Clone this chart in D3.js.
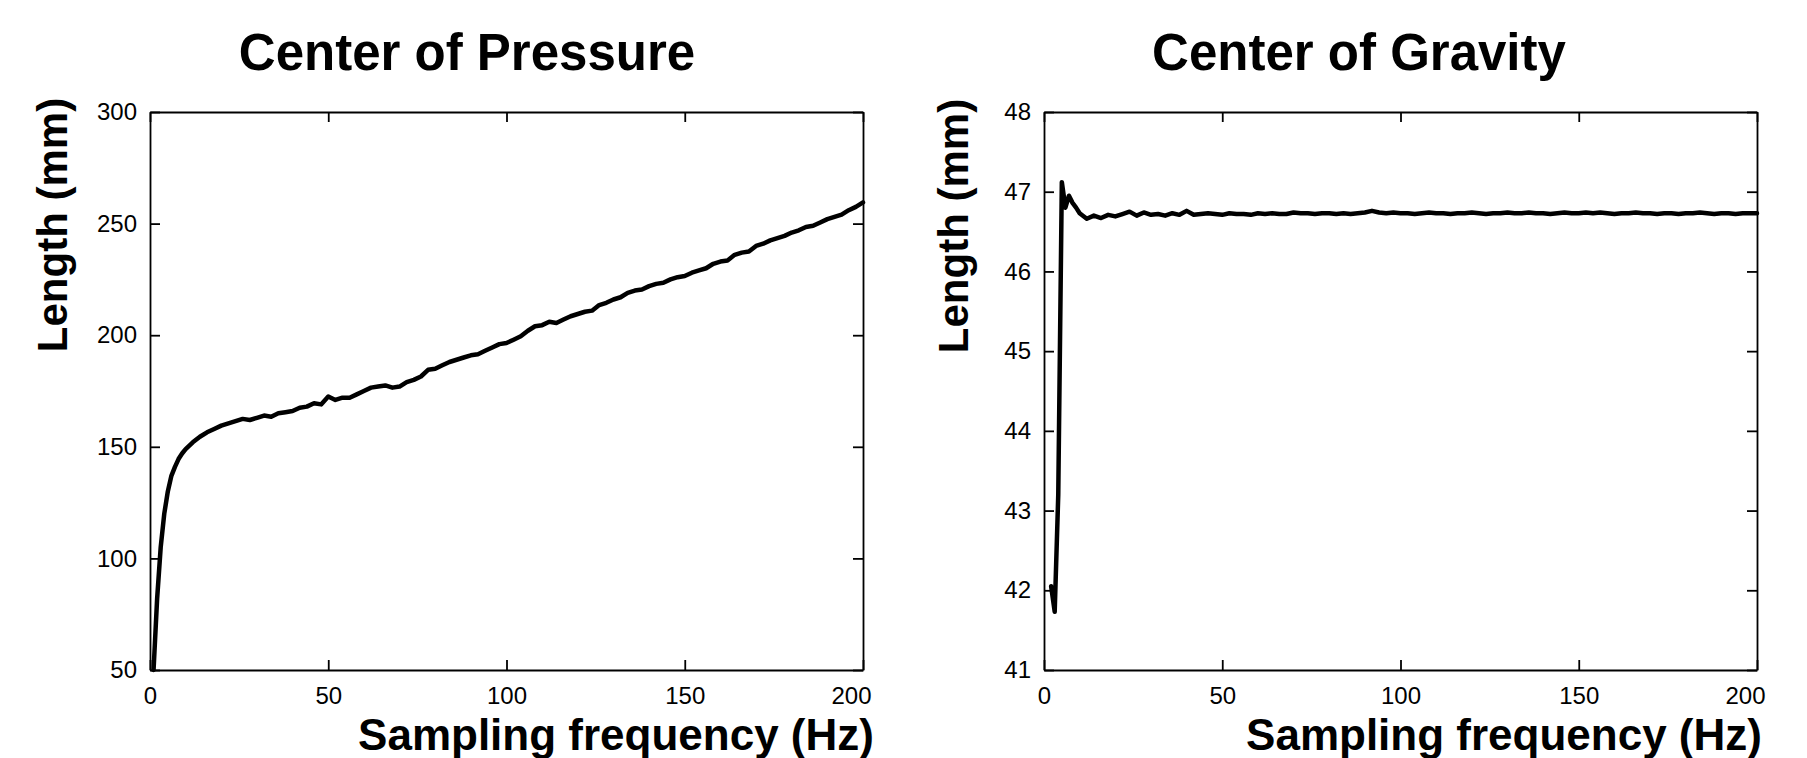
<!DOCTYPE html>
<html>
<head>
<meta charset="utf-8">
<script src="https://d3js.org/d3.v7.min.js"></script>
<style>
    body { margin: 0; background: #fff; }
    svg text { font-family: "Liberation Sans", Arial, Helvetica, sans-serif; fill: #000; }
    .axis text { font-size: 24px; }
    .axis path, .axis line { stroke: #000; stroke-width: 1.8px; }
    .title { font-size: 51px; font-weight: bold; }
    .x-label { font-size: 44px; font-weight: bold; }
    .y-label { font-size: 42px; font-weight: bold; }
</style>
</head>
<body>
<div id="chart"></div>
<script>
// center of pressure
const copFreq = [1, 2, 3, 4, 5, 6, 7, 8, 9, 10,
    12, 14, 16, 18, 20, 22, 24, 26, 28, 30,
    32, 34, 36, 38, 40, 42, 44, 46, 48, 50,
    52, 54, 56, 58, 60, 62, 64, 66, 68, 70,
    72, 74, 76, 78, 80, 82, 84, 86, 88, 90,
    92, 94, 96, 98, 100, 102, 104, 106, 108, 110,
    112, 114, 116, 118, 120, 122, 124, 126, 128, 130,
    132, 134, 136, 138, 140, 142, 144, 146, 148, 150,
    152, 154, 156, 158, 160, 162, 164, 166, 168, 170,
    172, 174, 176, 178, 180, 182, 184, 186, 188, 190,
    192, 194, 196, 198, 200];
const copLength = [50, 82, 105, 120, 130, 137, 141, 144.5, 147, 149,
    152, 154.5, 156.5, 158, 159.5, 160.5, 161.5, 162.5, 162, 163,
    164, 163.5, 165, 165.5, 166, 167.5, 168, 169.5, 169, 172.5,
    171, 172, 172, 173.5, 175, 176.5, 177, 177.5, 176.5, 177,
    179, 180, 181.5, 184.5, 185, 186.5, 188, 189, 190, 191,
    191.5, 193, 194.5, 196, 196.5, 198, 199.5, 202, 204, 204.5,
    206, 205.5, 207, 208.5, 209.5, 210.5, 211, 213.5, 214.5, 216,
    217, 219, 220, 220.5, 222, 223, 223.5, 225, 226, 226.5,
    228, 229, 230, 232, 233, 233.5, 236, 237, 237.5, 240,
    241, 242.5, 243.5, 244.5, 246, 247, 248.5, 249, 250.5, 252,
    253, 254, 256, 257.5, 259.5];

// center of gravity
const cogFreq = [2, 3, 4, 5, 6, 7, 8, 9, 10,
    12, 14, 16, 18, 20, 22, 24, 26, 28, 30,
    32, 34, 36, 38, 40, 42, 44, 46, 48, 50,
    52, 54, 56, 58, 60, 62, 64, 66, 68, 70,
    72, 74, 76, 78, 80, 82, 84, 86, 88, 90,
    92, 94, 96, 98, 100, 102, 104, 106, 108, 110,
    112, 114, 116, 118, 120, 122, 124, 126, 128, 130,
    132, 134, 136, 138, 140, 142, 144, 146, 148, 150,
    152, 154, 156, 158, 160, 162, 164, 166, 168, 170,
    172, 174, 176, 178, 180, 182, 184, 186, 188, 190,
    192, 194, 196, 198, 200];
const cogLength = [42.05, 41.73, 43.2, 47.12, 46.8, 46.95, 46.86, 46.8, 46.73,
    46.66, 46.7, 46.67, 46.71, 46.69, 46.72, 46.75, 46.7, 46.74, 46.71,
    46.72, 46.7, 46.73, 46.71, 46.76, 46.71, 46.72, 46.73, 46.72, 46.71,
    46.73, 46.72, 46.72, 46.71, 46.73, 46.72, 46.73, 46.72, 46.72, 46.74,
    46.73, 46.73, 46.72, 46.73, 46.73, 46.72, 46.73, 46.72, 46.73, 46.74,
    46.76, 46.74, 46.73, 46.74, 46.73, 46.73, 46.72, 46.73, 46.74, 46.73,
    46.73, 46.72, 46.73, 46.73, 46.74, 46.73, 46.72, 46.73, 46.73, 46.74,
    46.73, 46.73, 46.74, 46.73, 46.73, 46.72, 46.73, 46.74, 46.73, 46.73,
    46.74, 46.73, 46.74, 46.73, 46.72, 46.73, 46.73, 46.74, 46.73, 46.73,
    46.72, 46.73, 46.73, 46.72, 46.73, 46.73, 46.74, 46.73, 46.72, 46.73,
    46.73, 46.72, 46.73, 46.73, 46.73];

const xTicks = [0, 50, 100, 150, 200];
const copTicks = [50, 100, 150, 200, 250, 300];
const cogTicks = [41, 42, 43, 44, 45, 46, 47, 48];

class LinePlotVis {
    constructor(svg, freq, values, opts) {
        this.svg = svg;
        this.freq = freq;
        this.values = values;
        this.opts = opts;
        this.initVis();
    }

    initVis() {
        let vis = this;
        let o = vis.opts;

        vis.x = d3.scaleLinear().domain([0, 200]).range([o.left, o.right]);
        vis.y = d3.scaleLinear().domain(o.yDomain).range([o.bottom, o.top]);

        // box with inward ticks on all sides
        vis.svg.append("g")
            .attr("class", "axis")
            .attr("transform", `translate(0, ${o.bottom})`)
            .call(d3.axisBottom(vis.x).tickValues(xTicks).tickFormat(d3.format("d"))
                .tickSizeInner(-10).tickSizeOuter(0).tickPadding(17))
            .call(g => g.selectAll(".tick text").filter(d => d === 200).attr("dx", -12));

        vis.svg.append("g")
            .attr("class", "axis")
            .attr("transform", `translate(0, ${o.top})`)
            .call(d3.axisTop(vis.x).tickValues(xTicks).tickSizeInner(-10).tickSizeOuter(0).tickFormat(""));

        vis.svg.append("g")
            .attr("class", "axis")
            .attr("transform", `translate(${o.left}, 0)`)
            .call(d3.axisLeft(vis.y).tickValues(o.yTicks).tickFormat(d3.format("d"))
                .tickSizeInner(-10).tickSizeOuter(0).tickPadding(13));

        vis.svg.append("g")
            .attr("class", "axis")
            .attr("transform", `translate(${o.right}, 0)`)
            .call(d3.axisRight(vis.y).tickValues(o.yTicks).tickSizeInner(-10).tickSizeOuter(0).tickFormat(""));

        vis.svg.selectAll(".axis text").attr("font-family", null).attr("font-size", null);

        // titles and labels
        vis.svg.append("text")
            .attr("class", "title")
            .attr("x", o.titleX)
            .attr("y", 70)
            .attr("text-anchor", "middle")
            .text(o.title);

        vis.svg.append("text")
            .attr("class", "x-label")
            .attr("x", o.xLabelX)
            .attr("y", 750)
            .attr("text-anchor", "middle")
            .text("Sampling frequency (Hz)");

        vis.svg.append("text")
            .attr("class", "y-label")
            .attr("transform", `translate(${o.yLabelX}, ${o.yLabelY}) rotate(-90)`)
            .attr("text-anchor", "middle")
            .text("Length (mm)");

        vis.updateVis();
    }

    updateVis() {
        let vis = this;
        let pts = vis.freq.map((f, i) => [f, vis.values[i]]);

        let line = d3.line()
            .x(d => vis.x(d[0]))
            .y(d => vis.y(d[1]));

        vis.svg.append("path")
            .datum(pts)
            .attr("d", line)
            .attr("fill", "none")
            .attr("stroke", "#000")
            .attr("stroke-width", 4.5)
            .attr("stroke-linejoin", "round")
            .attr("stroke-linecap", "round");
    }
}

const svg = d3.select("#chart").append("svg")
    .attr("width", 1807)
    .attr("height", 758);

new LinePlotVis(svg, copFreq, copLength, {
    left: 150, right: 863, top: 112, bottom: 670,
    yDomain: [50, 300], yTicks: copTicks,
    title: "Center of Pressure", titleX: 467,
    xLabelX: 616, yLabelX: 67, yLabelY: 225
});

new LinePlotVis(svg, cogFreq, cogLength, {
    left: 1044, right: 1757, top: 112, bottom: 670,
    yDomain: [41, 48], yTicks: cogTicks,
    title: "Center of Gravity", titleX: 1359,
    xLabelX: 1504, yLabelX: 968, yLabelY: 226
});
</script>
</body>
</html>
